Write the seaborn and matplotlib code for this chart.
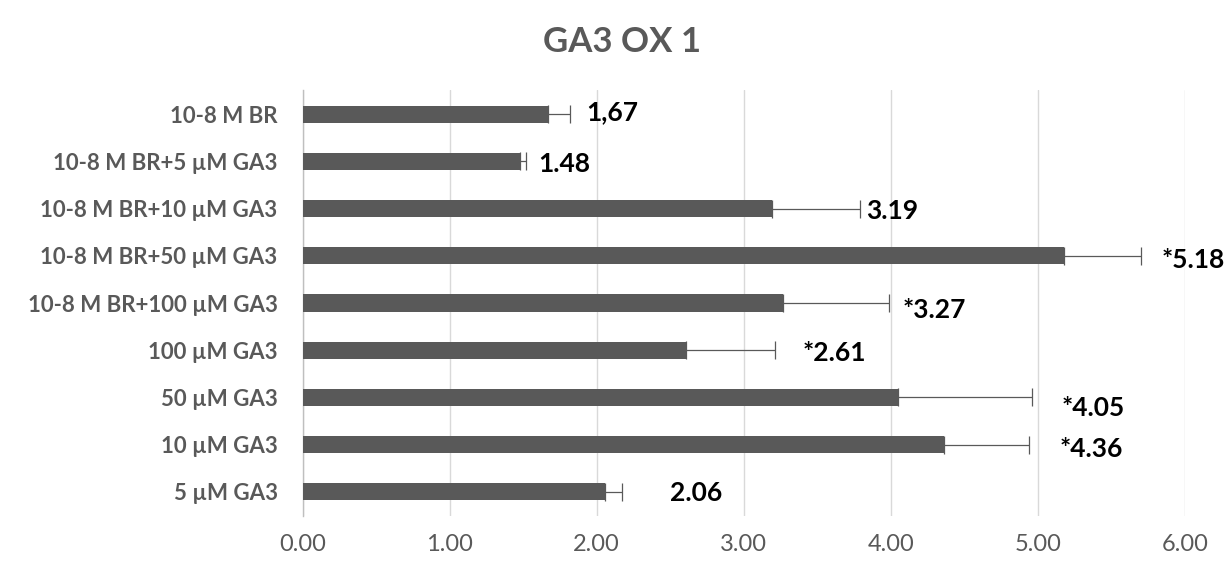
import matplotlib
matplotlib.use("Agg")
import matplotlib.pyplot as plt
import seaborn as sns
import pandas as pd
import numpy as np

# Treatments, listed top to bottom
treatments = [
    "10-8 M BR",
    "10-8 M BR+5 µM GA3",
    "10-8 M BR+10 µM GA3",
    "10-8 M BR+50 µM GA3",
    "10-8 M BR+100 µM GA3",
    "100 µM GA3",
    "50 µM GA3",
    "10 µM GA3",
    "5 µM GA3",
]
# Relative expression and its standard error (upper side only)
expression = [1.67, 1.48, 3.19, 5.18, 3.27, 2.61, 4.05, 4.36, 2.06]
std_error = [0.15, 0.04, 0.60, 0.52, 0.72, 0.60, 0.91, 0.58, 0.11]
# Value labels; an asterisk marks a significant difference
value_labels = ["1,67", "1.48", "3.19", "*5.18", "*3.27", "*2.61", "*4.05", "*4.36", "2.06"]
x_ticks = [0, 1, 2, 3, 4, 5, 6]

# Where each value label sits (x in data units, y shift in category units)
label_x = [1.93, 1.60, 3.83, 5.84, 4.08, 3.40, 5.16, 5.15, 2.50]
label_dy = [-0.05, 0.05, 0.06, 0.10, 0.14, 0.05, 0.22, 0.10, 0.03]

df = pd.DataFrame({"treatment": treatments, "expression": expression})

sns.set_theme(style="white")
plt.rcParams["font.family"] = ["Lato", "DejaVu Sans"]

bar_color = "#595959"
text_gray = "#595959"

fig = plt.figure(figsize=(12.3, 5.61), dpi=100)
ax = fig.add_axes([302.5 / 1230, 1 - 515.6 / 561, (1185 - 302.5) / 1230, (515.6 - 90.4) / 561])

sns.barplot(data=df, x="expression", y="treatment", orient="h",
            color=bar_color, saturation=1, width=0.36, linewidth=0,
            ax=ax, zorder=3)

ypos = np.arange(len(treatments))
ax.errorbar(expression, ypos, xerr=[np.zeros(len(std_error)), std_error],
            fmt="none", ecolor=bar_color, elinewidth=0.9, capsize=6.5,
            capthick=0.9, zorder=4)

for lx, dy, y, txt in zip(label_x, label_dy, ypos, value_labels):
    ax.text(lx, y + dy, txt, ha="left", va="center", fontsize=19,
            fontweight="bold", color="black", zorder=5)

ax.set_xlim(0, 6)
ax.set_ylim(len(treatments) - 0.5, -0.5)
ax.set_xticks(x_ticks)
ax.set_xticklabels([f"{t:.2f}" for t in x_ticks])
ax.grid(axis="x", color="#d9d9d9", linewidth=1, zorder=0)
ax.grid(axis="y", visible=False)
for side in ["top", "right", "bottom"]:
    ax.spines[side].set_visible(False)
ax.spines["left"].set_color("#bfbfbf")
ax.spines["left"].set_linewidth(1)
ax.set_xlabel("")
ax.set_ylabel("")
ax.tick_params(axis="x", length=0, pad=13, labelsize=17, labelcolor=text_gray)
ax.tick_params(axis="y", length=0, pad=18, labelsize=16, labelcolor=text_gray)
for lbl in ax.get_yticklabels():
    lbl.set_fontweight("bold")

fig.text(622 / 1230, 1 - 42 / 561, "GA3 OX 1", ha="center", va="center",
         fontsize=25, fontweight="bold", color=text_gray)

fig.savefig("out.png", dpi=100)
